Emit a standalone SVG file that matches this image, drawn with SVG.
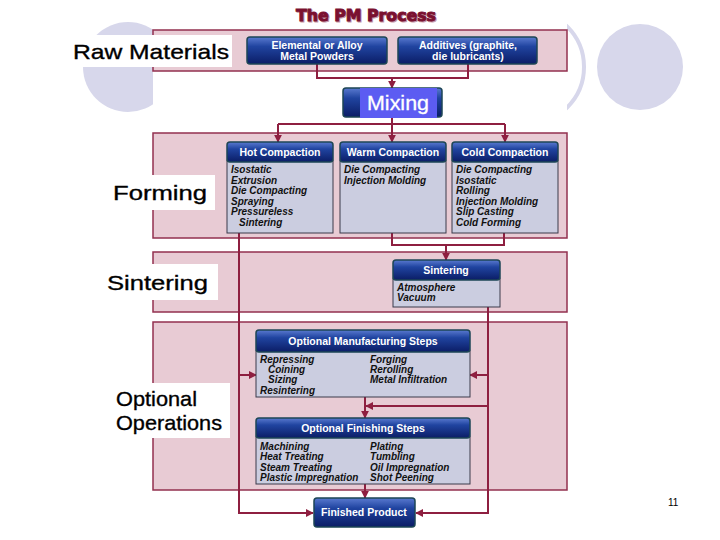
<svg xmlns="http://www.w3.org/2000/svg" width="720" height="540" viewBox="0 0 720 540">
<style>
.panel{fill:#e8cbd4;stroke:#93304f;stroke-width:1.5}
.hdr{fill:url(#hg);stroke:#1d4655;stroke-width:1.5}
.body{fill:#cbcde0;stroke:#3a3a4a;stroke-width:1}
.ht{font-family:"Liberation Sans",Arial,sans-serif;font-weight:bold;font-size:10.5px;fill:#fff;text-anchor:middle}
.bt{font-family:"Liberation Sans",Arial,sans-serif;font-weight:bold;font-style:italic;font-size:10px;fill:#111}
.lab{font-family:"Liberation Sans",Arial,sans-serif;font-size:21px;fill:#000;stroke:#000;stroke-width:0.35}
.lbox{fill:#fff}
.con{fill:none;stroke:#8e1f40;stroke-width:2}
</style>
<defs>
<linearGradient id="hg" x1="0" y1="0" x2="0" y2="1">
<stop offset="0" stop-color="#5a7ad0"/>
<stop offset="0.35" stop-color="#2044a0"/>
<stop offset="1" stop-color="#0b1d66"/>
</linearGradient>
<marker id="ar" viewBox="0 0 10 10" refX="9" refY="5" markerWidth="4" markerHeight="4" orient="auto" markerUnits="strokeWidth">
<path d="M0,0 L10,5 L0,10 z" fill="#8e1f40"/>
</marker>
</defs>
<rect width="720" height="540" fill="#fff"/>
<g id="decor">
<circle cx="128" cy="67" r="45" fill="#d7d7eb"/>
<circle cx="640" cy="67" r="43" fill="#d7d7eb"/>
<circle cx="527" cy="67" r="57" fill="none" stroke="#d7d7eb" stroke-width="4"/>
<rect x="153" y="0" width="414" height="532" fill="#fff"/>
</g>
<g id="title">
<text x="367" y="22" font-family="'DejaVu Sans',sans-serif" font-weight="bold" font-size="16" fill="#c89aa8" stroke="#c89aa8" stroke-width="1" text-anchor="middle" textLength="140" lengthAdjust="spacingAndGlyphs">The PM Process</text>
<text x="366" y="21" font-family="'DejaVu Sans',sans-serif" font-weight="bold" font-size="16" fill="#7a1030" stroke="#7a1030" stroke-width="1" text-anchor="middle" textLength="140" lengthAdjust="spacingAndGlyphs">The PM Process</text>
</g>
<g id="panels">
<rect class="panel" x="153" y="30" width="414" height="41"/>
<rect class="panel" x="153" y="133" width="414" height="105"/>
<rect class="panel" x="153" y="252" width="414" height="60"/>
<rect class="panel" x="153" y="322" width="414" height="168"/>
</g>
<g id="connectors">
<polyline class="con" points="317,64 317,78 468,78 468,64"/>
<line class="con" x1="392" y1="78" x2="392" y2="88" marker-end="url(#ar)"/>
<line class="con" x1="392" y1="117" x2="392" y2="124"/>
<line class="con" x1="278" y1="124" x2="505" y2="124"/>
<line class="con" x1="278" y1="124" x2="278" y2="142" marker-end="url(#ar)"/>
<line class="con" x1="392" y1="124" x2="392" y2="142" marker-end="url(#ar)"/>
<line class="con" x1="505" y1="124" x2="505" y2="142" marker-end="url(#ar)"/>
<polyline class="con" points="239,233 239,513 313,513" marker-end="url(#ar)"/>
<polyline class="con" points="392,233 392,245 504,245 504,233"/>
<line class="con" x1="446" y1="245" x2="446" y2="260" marker-end="url(#ar)"/>
<polyline class="con" points="488,307 488,513 416,513" marker-end="url(#ar)"/>
<line class="con" x1="239" y1="375" x2="256" y2="375" marker-end="url(#ar)"/>
<line class="con" x1="488" y1="375" x2="470" y2="375" marker-end="url(#ar)"/>
<line class="con" x1="488" y1="406" x2="366" y2="406" marker-end="url(#ar)"/>
<line class="con" x1="365" y1="397" x2="365" y2="418" marker-end="url(#ar)"/>
<line class="con" x1="365" y1="484" x2="365" y2="498" marker-end="url(#ar)"/>
</g>
<g id="raw-label">
<rect class="lbox" x="70" y="35" width="162" height="32"/>
<text class="lab" x="73" y="59" textLength="156" lengthAdjust="spacingAndGlyphs">Raw Materials</text>
</g>
<g id="elemental">
<rect class="hdr" x="247" y="37" width="140" height="27" rx="3"/>
<text class="ht" x="317" y="49">Elemental or Alloy</text>
<text class="ht" x="317" y="59.5">Metal Powders</text>
</g>
<g id="additives">
<rect class="hdr" x="398" y="37" width="139" height="27" rx="3"/>
<text class="ht" x="468" y="49">Additives (graphite,</text>
<text class="ht" x="468" y="59.5">die lubricants)</text>
</g>
<g id="mixing">
<rect class="hdr" x="343" y="88" width="99" height="29" rx="3"/>
<rect x="360" y="88" width="77" height="30" fill="#5c5cf2"/>
<text x="398" y="110" font-family="'Liberation Sans',Arial,sans-serif" font-size="20" fill="#fff" stroke="#fff" stroke-width="0.3" text-anchor="middle" textLength="62" lengthAdjust="spacingAndGlyphs">Mixing</text>
</g>
<g id="forming-label">
<rect class="lbox" x="105" y="175" width="110" height="35"/>
<text class="lab" x="113" y="200" textLength="94" lengthAdjust="spacingAndGlyphs">Forming</text>
</g>
<g id="hot">
<rect class="body" x="227" y="160" width="106" height="73"/>
<rect class="hdr" x="227" y="142" width="106" height="20" rx="3"/>
<text class="ht" x="280" y="156">Hot Compaction</text>
<text class="bt" x="231" y="173">Isostatic</text>
<text class="bt" x="231" y="183.5">Extrusion</text>
<text class="bt" x="231" y="194">Die Compacting</text>
<text class="bt" x="231" y="204.5">Spraying</text>
<text class="bt" x="231" y="215">Pressureless</text>
<text class="bt" x="239" y="225.5">Sintering</text>
</g>
<g id="warm">
<rect class="body" x="340" y="160" width="106" height="73"/>
<rect class="hdr" x="340" y="142" width="106" height="20" rx="3"/>
<text class="ht" x="393" y="156">Warm Compaction</text>
<text class="bt" x="344" y="173">Die Compacting</text>
<text class="bt" x="344" y="183.5">Injection Molding</text>
</g>
<g id="cold">
<rect class="body" x="452" y="160" width="106" height="73"/>
<rect class="hdr" x="452" y="142" width="106" height="20" rx="3"/>
<text class="ht" x="505" y="156">Cold Compaction</text>
<text class="bt" x="456" y="173">Die Compacting</text>
<text class="bt" x="456" y="183.5">Isostatic</text>
<text class="bt" x="456" y="194">Rolling</text>
<text class="bt" x="456" y="204.5">Injection Molding</text>
<text class="bt" x="456" y="215">Slip Casting</text>
<text class="bt" x="456" y="225.5">Cold Forming</text>
</g>
<g id="sintering-label">
<rect class="lbox" x="103" y="264" width="115" height="36"/>
<text class="lab" x="107" y="290" textLength="101" lengthAdjust="spacingAndGlyphs">Sintering</text>
</g>
<g id="sintering">
<rect class="body" x="393" y="278" width="107" height="29"/>
<rect class="hdr" x="393" y="260" width="107" height="20" rx="3"/>
<text class="ht" x="446" y="274">Sintering</text>
<text class="bt" x="397" y="291">Atmosphere</text>
<text class="bt" x="397" y="301">Vacuum</text>
</g>
<g id="optional-label">
<rect class="lbox" x="113" y="383" width="117" height="55"/>
<text class="lab" x="116" y="406" textLength="81" lengthAdjust="spacingAndGlyphs">Optional</text>
<text class="lab" x="116" y="430" textLength="106" lengthAdjust="spacingAndGlyphs">Operations</text>
</g>
<g id="opt-manufacturing">
<rect class="body" x="256" y="350" width="214" height="47"/>
<rect class="hdr" x="256" y="330" width="214" height="22" rx="3"/>
<text class="ht" x="363" y="345">Optional Manufacturing Steps</text>
<text class="bt" x="260" y="363">Repressing</text>
<text class="bt" x="268" y="373">Coining</text>
<text class="bt" x="268" y="383">Sizing</text>
<text class="bt" x="260" y="393.5">Resintering</text>
<text class="bt" x="370" y="363">Forging</text>
<text class="bt" x="370" y="373">Rerolling</text>
<text class="bt" x="370" y="383">Metal Infiltration</text>
</g>
<g id="opt-finishing">
<rect class="body" x="256" y="436" width="214" height="48"/>
<rect class="hdr" x="256" y="418" width="214" height="20" rx="3"/>
<text class="ht" x="363" y="432">Optional Finishing Steps</text>
<text class="bt" x="260" y="449.5">Machining</text>
<text class="bt" x="260" y="460">Heat Treating</text>
<text class="bt" x="260" y="470.5">Steam Treating</text>
<text class="bt" x="260" y="481">Plastic Impregnation</text>
<text class="bt" x="370" y="449.5">Plating</text>
<text class="bt" x="370" y="460">Tumbling</text>
<text class="bt" x="370" y="470.5">Oil Impregnation</text>
<text class="bt" x="370" y="481">Shot Peening</text>
</g>
<g id="finished">
<rect class="hdr" x="314" y="498" width="101" height="29" rx="3"/>
<text class="ht" x="364" y="516">Finished Product</text>
</g>
<text x="668" y="506" font-family="'Liberation Sans',Arial,sans-serif" font-size="10" fill="#000">11</text>
</svg>
